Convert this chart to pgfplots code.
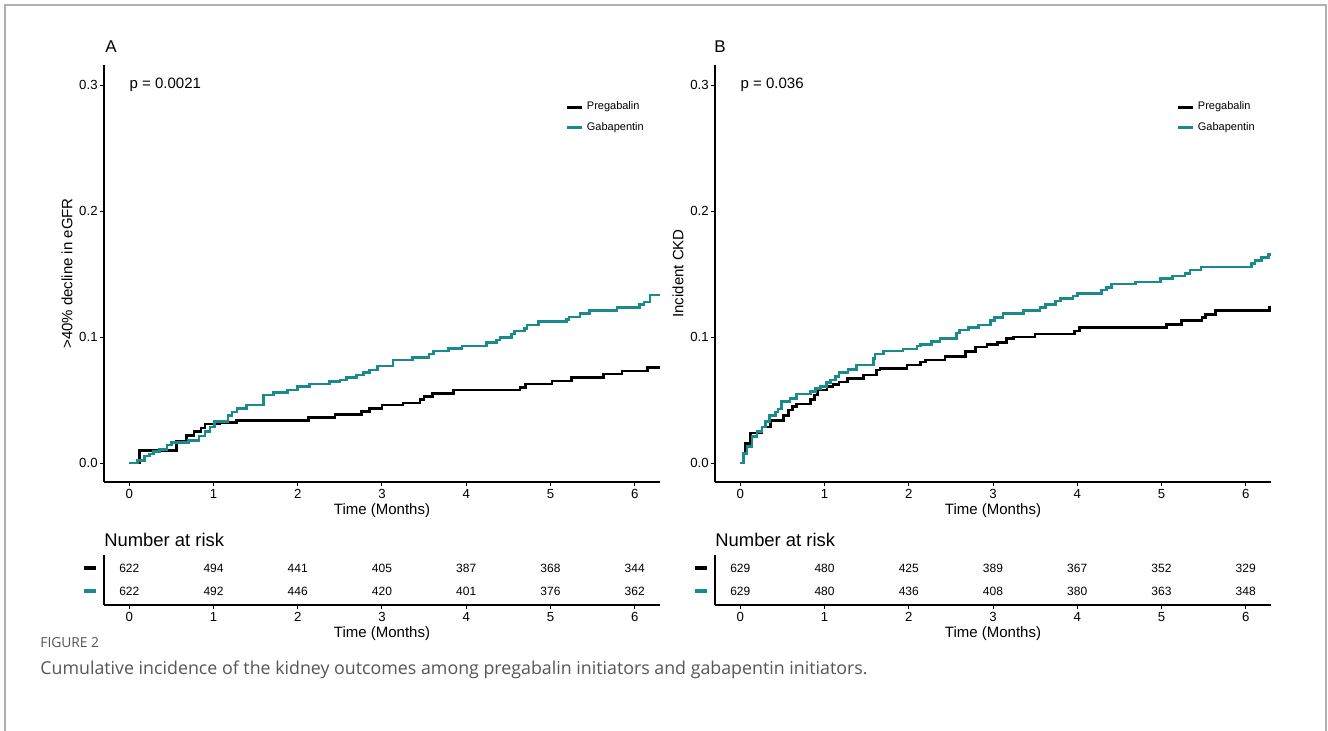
\documentclass[border=0pt]{standalone}
\usepackage{fontspec}
\setmainfont{Liberation Sans}
\newfontfamily\capfont{Open Sans}
\usepackage{pgfplots}
\usepackage{pgfplotstable}
\pgfplotsset{compat=1.18}
\definecolor{gaba}{HTML}{1B8A8A}
\definecolor{frame}{HTML}{B0B0B0}
\definecolor{capgray}{HTML}{555555}

\pgfplotstableread{
t v
0 0
0.12 0.0098
0.56 0.0175
0.68 0.022
0.77 0.025
0.85 0.028
0.90 0.031
1.07 0.032
1.27 0.034
2.13 0.036
2.44 0.0387
2.76 0.041
2.85 0.0434
3.0 0.046
3.25 0.0478
3.45 0.0505
3.5 0.053
3.6 0.0553
3.85 0.058
4.64 0.060
4.70 0.0627
5.02 0.0653
5.25 0.068
5.63 0.0706
5.85 0.073
6.15 0.076
6.3 0.076
}\Apreg

\pgfplotstableread{
t v
0 0
0.10 0.002
0.18 0.0055
0.24 0.0071
0.29 0.009
0.36 0.011
0.45 0.0143
0.50 0.0164
0.70 0.018
0.83 0.0214
0.90 0.025
0.96 0.0288
1.01 0.0328
1.17 0.038
1.22 0.0407
1.28 0.0434
1.39 0.046
1.59 0.054
1.71 0.056
1.88 0.058
2.0 0.0606
2.14 0.0627
2.38 0.065
2.5 0.066
2.58 0.068
2.7 0.070
2.78 0.072
2.85 0.074
2.95 0.077
3.13 0.0817
3.36 0.0839
3.56 0.0865
3.61 0.089
3.79 0.091
3.95 0.0929
4.24 0.0955
4.36 0.0976
4.40 0.0997
4.54 0.1024
4.57 0.105
4.69 0.1069
4.72 0.1095
4.86 0.1122
5.19 0.114
5.22 0.116
5.35 0.1188
5.46 0.121
5.79 0.1235
6.06 0.1257
6.11 0.128
6.18 0.1333
6.3 0.1333
}\Agaba

\pgfplotstableread{
t v
0 0
0.03 0.008
0.06 0.0156
0.12 0.024
0.26 0.0288
0.36 0.034
0.51 0.038
0.57 0.042
0.62 0.045
0.67 0.047
0.83 0.0505
0.88 0.054
0.92 0.058
1.03 0.0606
1.10 0.0624
1.17 0.0645
1.27 0.0672
1.46 0.0698
1.62 0.0738
1.66 0.075
1.98 0.0778
2.14 0.0804
2.20 0.0817
2.43 0.0844
2.67 0.0884
2.79 0.0923
2.93 0.094
3.05 0.0958
3.16 0.099
3.24 0.1002
3.50 0.1024
3.97 0.105
4.03 0.1077
5.06 0.110
5.24 0.113
5.48 0.1156
5.52 0.118
5.64 0.121
6.28 0.1235
6.3 0.1235
}\Bpreg

\pgfplotstableread{
t v
0 0
0.04 0.0077
0.08 0.013
0.14 0.021
0.20 0.025
0.26 0.0288
0.30 0.0328
0.35 0.038
0.42 0.0407
0.45 0.043
0.49 0.0487
0.59 0.0513
0.67 0.0548
0.83 0.0566
0.89 0.0593
0.95 0.061
1.02 0.0638
1.07 0.066
1.13 0.0685
1.17 0.0717
1.28 0.0743
1.38 0.0778
1.58 0.083
1.60 0.0865
1.70 0.089
1.93 0.0907
2.10 0.0929
2.14 0.094
2.27 0.0963
2.37 0.099
2.57 0.1034
2.60 0.1056
2.71 0.1077
2.83 0.1095
2.97 0.113
3.02 0.1156
3.12 0.1188
3.36 0.121
3.56 0.1235
3.62 0.126
3.74 0.1288
3.80 0.1307
3.95 0.1325
4.0 0.1347
4.29 0.1373
4.35 0.1394
4.41 0.142
4.69 0.1439
4.99 0.1466
5.13 0.1484
5.28 0.1506
5.34 0.1532
5.47 0.1558
6.07 0.1585
6.11 0.161
6.19 0.163
6.27 0.1656
6.3 0.1656
}\Bgaba

\pgfplotstableread{
t y n
0 2 622
1 2 494
2 2 441
3 2 405
4 2 387
5 2 368
6 2 344
0 1 622
1 1 492
2 1 446
3 1 420
4 1 401
5 1 376
6 1 362
}\Arisk

\pgfplotstableread{
t y n
0 2 629
1 2 480
2 2 425
3 2 389
4 2 367
5 2 352
6 2 329
0 1 629
1 1 480
2 1 436
3 1 408
4 1 380
5 1 363
6 1 348
}\Brisk

\pgfplotsset{
  base/.style={
    scale only axis, width=278pt,
    xmin=-0.3, xmax=6.3,
    axis x line*=bottom, axis y line*=left,
    tick align=outside, major tick length=2pt,
    xtick={0,...,6},
    /pgf/number format/assume math mode=true,
    tick label style={font=\fontsize{6.6}{8}\selectfont},
    xticklabel style={inner sep=1.6pt},
    yticklabel style={inner sep=1pt},
    xlabel={Time (Months)},
    xlabel style={font=\fontsize{7.5}{9}\selectfont, anchor=center},
    axis line style={line width=0.6pt},
    tick style={line width=0.5pt, black},
  },
  km/.style={base,
    height=208.5pt,
    ymin=-0.015, ymax=0.316,
    ytick={0,0.1,0.2,0.3}, yticklabels={0.0,0.1,0.2,0.3},
    xlabel style={at={(axis description cs:0.5,-0.068)}},
    ylabel style={font=\fontsize{7.5}{9}\selectfont, at={(axis description cs:-0.0665,0.5)}, anchor=center, rotate=0},
    every axis plot/.append style={line width=1.3pt, const plot},
    legend style={draw=none, fill=none, font=\fontsize{5.5}{6.5}\selectfont,
      at={(rel axis cs:0.829,0.922)}, anchor=north west, inner sep=0pt, row sep=0.6pt,
      /tikz/every even column/.append style={column sep=2pt}},
    legend cell align=left,
    legend image code/.code={\draw[##1, line width=1.3pt] (0pt,0pt) -- (7.5pt,0pt);},
  },
  risk/.style={base,
    height=25pt,
    ymin=0.39, ymax=2.57,
    xlabel style={at={(axis description cs:0.5,-0.57)}},
    ytick={1,2},
    yticklabels={\textcolor{gaba}{\rule{6pt}{2pt}}, \textcolor{black}{\rule{6pt}{2pt}}},
    ytick style={draw=none},
    yticklabel style={inner sep=0pt, xshift=-2pt},
  },
  riskplot/.style={only marks, mark=*, mark size=0pt, mark options={draw=none, fill=none},
    nodes near coords, point meta=explicit symbolic, nodes near coords align={center},
    every node near coord/.append style={font=\fontsize{6}{7}\selectfont, black}},
}

\begin{document}
\begin{tikzpicture}
\path[use as bounding box] (0,0) rectangle (664pt,365.5pt);
\draw[frame, line width=0.75pt] (2.5pt,0) -- (2.5pt,363pt) -- (663pt,363pt) -- (663pt,0);

% Panel A
\begin{axis}[km, at={(52pt,124.5pt)}, anchor=south west, ylabel={>40\% decline in eGFR}]
\addplot[black] table[x=t, y=v] {\Apreg};
\addplot[gaba] table[x=t, y=v] {\Agaba};
\legend{Pregabalin, Gabapentin}
\node[anchor=west, font=\fontsize{7.5}{9}\selectfont, inner sep=0pt] at (axis cs:0,0.3) {p = 0.0021};
\end{axis}

% Panel B
\begin{axis}[km, at={(357.5pt,124.5pt)}, anchor=south west, ylabel={Incident CKD}]
\addplot[black] table[x=t, y=v] {\Bpreg};
\addplot[gaba] table[x=t, y=v] {\Bgaba};
\legend{Pregabalin, Gabapentin}
\node[anchor=west, font=\fontsize{7.5}{9}\selectfont, inner sep=0pt] at (axis cs:0,0.3) {p = 0.036};
\end{axis}

% Risk tables
\begin{axis}[risk, at={(52pt,63pt)}, anchor=south west]
\addplot[riskplot] table[x=t, y=y, meta=n] {\Arisk};
\end{axis}
\begin{axis}[risk, at={(357.5pt,63pt)}, anchor=south west]
\addplot[riskplot] table[x=t, y=y, meta=n] {\Brisk};
\end{axis}

\node[anchor=west, inner sep=0pt, font=\fontsize{8.5}{10}\selectfont] at (52.5pt,342pt) {A};
\node[anchor=west, inner sep=0pt, font=\fontsize{8.5}{10}\selectfont] at (357pt,342pt) {B};
\node[anchor=west, inner sep=0pt, font=\fontsize{9.2}{11}\selectfont] at (52pt,95.5pt) {Number at risk};
\node[anchor=west, inner sep=0pt, font=\fontsize{9.2}{11}\selectfont] at (357.5pt,95.5pt) {Number at risk};

\node[anchor=west, inner sep=0pt, text=capgray, font=\capfont\fontsize{6.9}{8}\selectfont] at (20pt,44pt) {FIGURE 2};
\node[anchor=west, inner sep=0pt, text=capgray, font=\capfont\fontsize{8.9}{11}\selectfont] at (20pt,30.5pt) {Cumulative incidence of the kidney outcomes among pregabalin initiators and gabapentin initiators.};
\end{tikzpicture}
\end{document}
